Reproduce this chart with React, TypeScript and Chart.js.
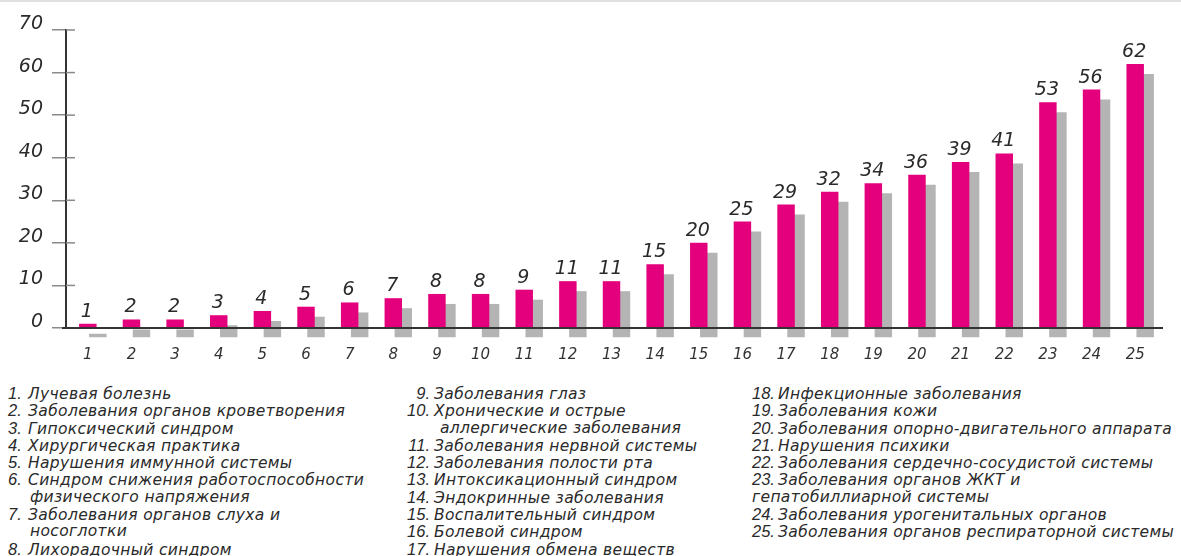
import React, { useEffect, useRef } from "react";
import { Chart, registerables } from "chart.js";

Chart.register(...registerables);

const categories = ["1","2","3","4","5","6","7","8","9","10","11","12","13","14","15","16","17","18","19","20","21","22","23","24","25"];
const values = [1, 2, 2, 3, 4, 5, 6, 7, 8, 8, 9, 11, 11, 15, 20, 25, 29, 32, 34, 36, 39, 41, 53, 56, 62];
const yMin = 0;
const yMax = 70;
const yStep = 10;

const legendCol1: [string, string[]][] = [
  ["1.", ["Лучевая болезнь"]],
  ["2.", ["Заболевания органов кроветворения"]],
  ["3.", ["Гипоксический синдром"]],
  ["4.", ["Хирургическая практика"]],
  ["5.", ["Нарушения иммунной системы"]],
  ["6.", ["Синдром снижения работоспособности", "физического напряжения"]],
  ["7.", ["Заболевания органов слуха и", "носоглотки"]],
  ["8.", ["Лихорадочный синдром"]],
];
const legendCol2: [string, string[]][] = [
  ["9.", ["Заболевания глаз"]],
  ["10.", ["Хронические и острые", "аллергические заболевания"]],
  ["11.", ["Заболевания нервной системы"]],
  ["12.", ["Заболевания полости рта"]],
  ["13.", ["Интоксикационный синдром"]],
  ["14.", ["Эндокринные заболевания"]],
  ["15.", ["Воспалительный синдром"]],
  ["16.", ["Болевой синдром"]],
  ["17.", ["Нарушения обмена веществ"]],
];
const legendCol3: [string, string[]][] = [
  ["18.", ["Инфекционные заболевания"]],
  ["19.", ["Заболевания кожи"]],
  ["20.", ["Заболевания опорно-двигательного аппарата"]],
  ["21.", ["Нарушения психики"]],
  ["22.", ["Заболевания сердечно-сосудистой системы"]],
  ["23.", ["Заболевания органов ЖКТ и", "гепатобиллиарной системы"]],
  ["24.", ["Заболевания урогенитальных органов"]],
  ["25.", ["Заболевания органов респираторной системы"]],
];

const FONT = "'DejaVu Sans', 'Liberation Sans', Arial, sans-serif";
const NUM_FONT = "'Liberation Sans', Arial, sans-serif";
const MAGENTA = "#e4007c";
const SHADOW = "#b4b4b4";
const TEXT = "#2a2a2a";

const shadowPlugin = {
  id: "barShadow",
  beforeDatasetDraw(chart: any) {
    const ctx = chart.ctx;
    ctx.save();
    ctx.shadowColor = SHADOW;
    ctx.shadowOffsetX = 10;
    ctx.shadowOffsetY = 10;
    ctx.shadowBlur = 0;
  },
  afterDatasetDraw(chart: any) {
    chart.ctx.restore();
  },
};

const valueLabelPlugin = {
  id: "valueLabels",
  afterDatasetsDraw(chart: any) {
    const ctx = chart.ctx;
    const meta = chart.getDatasetMeta(0);
    const data = chart.data.datasets[0].data;
    ctx.save();
    ctx.font = `italic 19px ${FONT}`;
    ctx.fillStyle = TEXT;
    ctx.textAlign = "center";
    ctx.textBaseline = "alphabetic";
    meta.data.forEach((el: any, i: number) => {
      ctx.fillText(String(data[i]), el.x - 1, el.y - 7);
    });
    ctx.restore();
  },
};

const axisExtrasPlugin = {
  id: "axisExtras",
  afterDraw(chart: any) {
    const ctx = chart.ctx;
    const y = chart.scales.y;
    const { left, right, bottom } = chart.chartArea;
    ctx.save();
    ctx.strokeStyle = "#8a8a8a";
    ctx.lineWidth = 1.5;
    y.ticks.forEach((t: any) => {
      if (t.value === yMin) return;
      const py = y.getPixelForValue(t.value);
      ctx.beginPath();
      ctx.moveTo(left, py);
      ctx.lineTo(left + 9, py);
      ctx.stroke();
    });
    ctx.strokeStyle = "#333";
    ctx.lineWidth = 2;
    ctx.beginPath();
    ctx.moveTo(left - 4, bottom);
    ctx.lineTo(right + 6, bottom);
    ctx.stroke();
    ctx.restore();
  },
};

function LegendColumn({ items, left, numWidth, numAlign, gap, indent }: any) {
  return (
    <div
      style={{
        position: "absolute",
        left,
        top: 385,
        fontFamily: FONT,
        fontStyle: "italic",
        fontSize: 15.5,
        letterSpacing: "0.35px",
        lineHeight: "17.3px",
        color: TEXT,
        whiteSpace: "nowrap",
      }}
    >
      {items.map(([num, lines]: [string, string[]], i: number) => (
        <div key={i}>
          <div style={{ display: "flex", alignItems: "baseline", height: "17.3px" }}>
            <span
              style={{
                display: "inline-block",
                width: numWidth,
                textAlign: numAlign,
                fontFamily: NUM_FONT,
                fontSize: 16.5,
                letterSpacing: 0,
              }}
            >
              {num}
            </span>
            <span style={{ marginLeft: gap }}>{lines[0]}</span>
          </div>
          {lines.slice(1).map((l, j) => (
            <div key={j} style={{ paddingLeft: indent }}>
              {l}
            </div>
          ))}
        </div>
      ))}
    </div>
  );
}

export default function App() {
  const canvasRef = useRef<HTMLCanvasElement | null>(null);

  useEffect(() => {
    if (!canvasRef.current) return;
    const chart = new Chart(canvasRef.current, {
      type: "bar",
      data: {
        labels: categories,
        datasets: [
          {
            data: values,
            backgroundColor: MAGENTA,
            borderWidth: 0,
            barPercentage: 0.4,
            categoryPercentage: 1,
            clip: false as any,
          },
        ],
      },
      options: {
        responsive: false,
        animation: false,
        devicePixelRatio: 1,
        layout: { padding: { top: 30, right: 24, left: 0, bottom: 0 } },
        plugins: {
          legend: { display: false },
          tooltip: { enabled: false },
          title: { display: false },
        },
        scales: {
          x: {
            type: "category",
            z: 1,
            grid: { display: false },
            border: { display: true, color: "#333", width: 2 },
            ticks: {
              font: { family: FONT, size: 15, style: "italic" },
              color: "#333",
              padding: 10,
              maxRotation: 0,
              autoSkip: false,
            },
            afterFit(s: any) {
              s.height = 47;
            },
          },
          y: {
            min: yMin,
            max: yMax,
            ticks: {
              stepSize: yStep,
              font: { family: FONT, size: 19, style: "italic" },
              color: TEXT,
              padding: 9,
              labelOffset: -6,
            },
            grid: {
              drawOnChartArea: false,
              drawTicks: true,
              tickLength: 14,
              color: "#8a8a8a",
              tickColor: "#8a8a8a",
              lineWidth: 1.5,
            },
            border: { display: true, color: "#333", width: 2 },
            afterFit(s: any) {
              s.width = 66;
            },
          },
        },
      },
      plugins: [shadowPlugin, valueLabelPlugin, axisExtrasPlugin],
    });
    return () => chart.destroy();
  }, []);

  return (
    <div
      style={{
        position: "fixed",
        left: 0,
        top: 0,
        width: 1181,
        height: 556,
        overflow: "hidden",
        background: "#fff",
      }}
    >
      <div style={{ position: "absolute", left: 0, top: 0, width: 1181, height: 2, background: "#e2dfe2" }} />
      <canvas ref={canvasRef} width={1181} height={375} style={{ position: "absolute", left: 0, top: 0 }} />
      <LegendColumn items={legendCol1} left={8} numWidth={18} numAlign="left" gap={2} indent={22} />
      <LegendColumn items={legendCol2} left={400} numWidth={30} numAlign="right" gap={4} indent={40} />
      <LegendColumn items={legendCol3} left={752} numWidth={26} numAlign="left" gap={0} indent={0} />
    </div>
  );
}
